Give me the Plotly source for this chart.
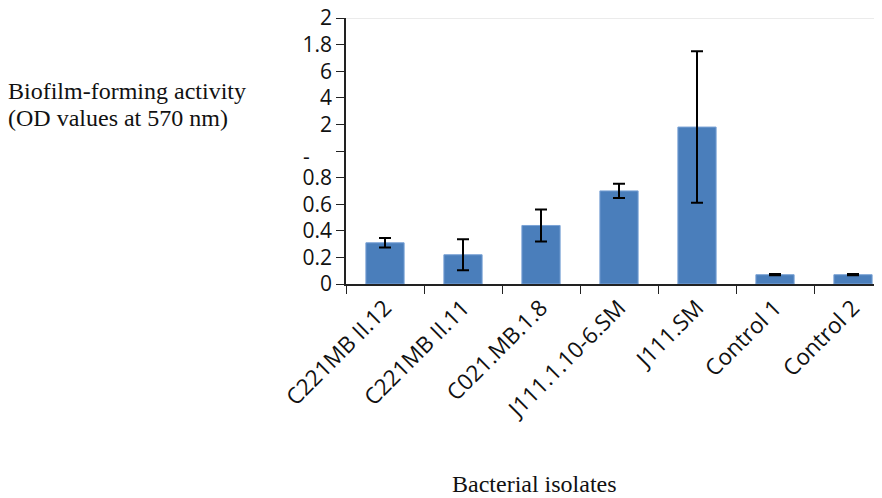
import plotly.graph_objects as go

categories = ["C221MB II.12", "C221MB II.11", "C021.MB.1.8", "J111.1.10-6.SM",
              "J111.SM", "Control 1", "Control 2"]
values = [0.31, 0.22, 0.44, 0.70, 1.18, 0.07, 0.07]
errors = [0.035, 0.117, 0.12, 0.053, 0.57, 0.005, 0.005]
tick_vals = [0, 0.2, 0.4, 0.6, 0.8, 1.0, 1.2, 1.4, 1.6, 1.8, 2.0]
tick_text = ["0", "0.2", "0.4", "0.6", "0.8", "", "2", "4", "6", "1.8", "2"]

# page body has an 8px margin; compensate so the figure fills the 882x498 window
OFF = 8
W, H = 882 - OFF, 498 - OFF
AX_X, AX_TOP, AX_BOT = 346, 18, 284  # target pixel positions in the window
L = AX_X - OFF
T = AX_TOP - OFF
B = H - (AX_BOT - OFF)
PW = W - L
PH = AX_BOT - AX_TOP


def px(x):
    return (x - AX_X) / PW


def py(y):
    return (AX_BOT - y) / PH


fig = go.Figure()
fig.add_trace(go.Bar(
    x=categories, y=values,
    marker=dict(color="#4a7ebb", line=dict(color="#7aa3d6", width=1)),
    error_y=dict(type="data", array=errors, visible=True,
                 color="black", thickness=2, width=6),
))

tick_font = dict(family="Open Sans, Noto Sans, sans-serif", size=21, color="#111")
xtick_font = dict(family="Open Sans, Noto Sans, sans-serif", size=22.5, color="#111")
serif = dict(family="Liberation Serif, Times New Roman, serif", size=24, color="#111")

fig.add_shape(type="line", xref="paper", yref="y", x0=0, x1=1, y0=2, y1=2,
              line=dict(color="#e4e4e4", width=1.5), layer="below")

fig.update_layout(
    width=W, height=H,
    margin=dict(l=L, r=0, t=T, b=B),
    paper_bgcolor="white", plot_bgcolor="white",
    showlegend=False, bargap=0.51,
    xaxis=dict(range=[-0.5, -0.5 + (882 - AX_X) / 78.0], showline=True, linecolor="#222",
               linewidth=1.5, ticks="outside", ticklen=8, tickcolor="#222",
               tickson="boundaries", tickangle=-45, tickfont=xtick_font,
               showgrid=False, fixedrange=True, automargin=False,
               ticklabeloverflow="allow"),
    yaxis=dict(range=[0, 2], tickvals=tick_vals, ticktext=tick_text,
               showline=True, linecolor="#222", linewidth=1.5,
               ticks="outside", ticklen=8, tickcolor="#222",
               tickfont=tick_font, showgrid=False, zeroline=False, automargin=False,
               ticklabeloverflow="allow"),
    annotations=[
        dict(text="Biofilm-forming activity", xref="paper", yref="paper",
             x=px(6), y=py(91), xanchor="left",
             yanchor="middle", showarrow=False, font=serif),
        dict(text="(OD values at 570 nm)", xref="paper", yref="paper",
             x=px(6), y=py(118), xanchor="left",
             yanchor="middle", showarrow=False, font=serif),
        dict(text="Bacterial isolates", xref="paper", yref="paper",
             x=px(534), y=py(484), xanchor="center",
             yanchor="middle", showarrow=False, font=serif),
        dict(text="-", xref="paper", yref="paper",
             x=px(306), y=py(156), xanchor="center",
             yanchor="middle", showarrow=False, font=tick_font),
    ],
)

fig.write_html("out.html")
